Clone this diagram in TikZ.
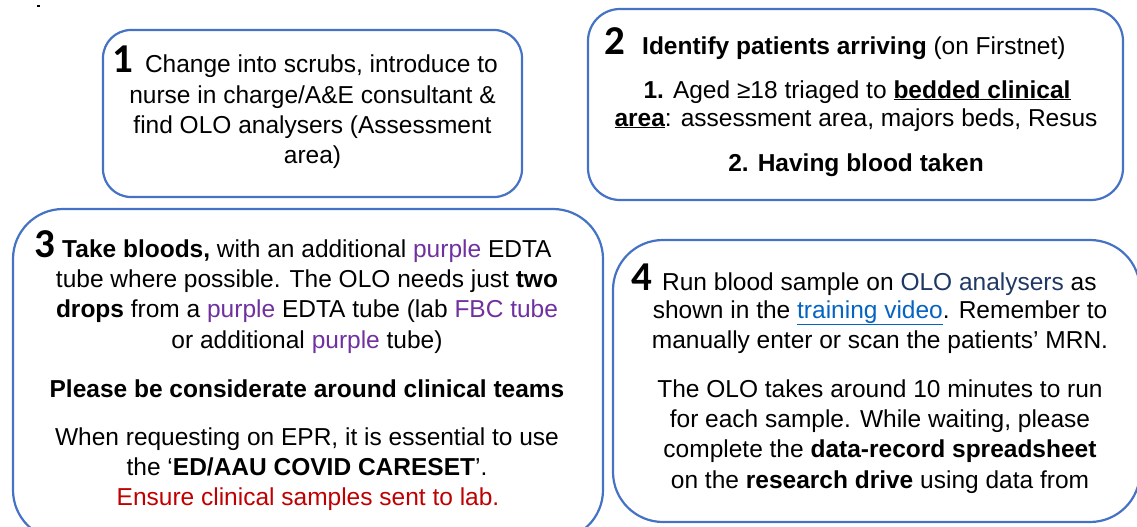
\documentclass[tikz,border=0pt]{standalone}
\usepackage{fontspec}
\setmainfont{Liberation Sans}
\newfontfamily\digitfont{Carlito}
\definecolor{boxblue}{HTML}{4472C4}
\definecolor{olopurple}{HTML}{7030A0}
\definecolor{olonavy}{HTML}{203864}
\definecolor{linkblue}{HTML}{0563C1}
\definecolor{warnred}{HTML}{C00000}
\newcommand{\bignum}[1]{{\digitfont\fontsize{41}{41}\selectfont\bfseries #1}}
\newcommand{\pur}[1]{\textcolor{olopurple}{#1}}
\begin{document}
\begin{tikzpicture}[x=1pt,y=-1pt,
  stepbox/.style={draw=boxblue, line width=2.2pt, rounded corners=#1, inner sep=0pt, outer sep=0pt},
  txt/.style={anchor=base, inner sep=0pt, font=\fontsize{24.5}{28}\selectfont}
]
\useasboundingbox (0,0) rectangle (1137,527);
\fill[black] (37,5) rectangle (40,7);
% boxes
\node[stepbox=28pt, minimum width=419pt, minimum height=167pt] (b1) at (312.5,113.5) {};
\node[stepbox=32pt, minimum width=535pt, minimum height=191pt] (b2) at (855.5,104.5) {};
\node[stepbox=50pt, minimum width=590pt, minimum height=331pt] (b3) at (308,374.5) {};
\node[stepbox=50pt, minimum width=527pt, minimum height=282pt] (b4) at (876.5,381) {};
% box 1
\node[txt] (t1a) at (305,72) {\bignum{1}\hspace{12pt}Change into scrubs, introduce to};
\node[txt] (t1b) at (312.5,103) {nurse in charge/A\&E consultant \&};
\node[txt] (t1c) at (312.5,133) {find OLO analysers (Assessment};
\node[txt] (t1d) at (312.5,163) {area)};
% box 2
\node[txt] (t2a) at (835,55) {\bignum{2}\hspace{17pt}\textbf{Identify patients arriving} (on Firstnet)};
\node[txt] (t2b) at (857,98) {\textbf{1.} Aged ≥18 triaged to \textbf{\underline{bedded clinical}}};
\node[txt] (t2c) at (856,126) {\textbf{\underline{area}}: assessment area, majors beds, Resus};
\node[txt] (t2d) at (856,171) {\textbf{2. Having blood taken}};
% box 3
\node[txt] (t3a) at (293,257) {\bignum{3}\hspace{7pt}\textbf{Take bloods,} with an additional \pur{purple} EDTA};
\node[txt] (t3b) at (307,287) {tube where possible. The OLO needs just \textbf{two}};
\node[txt] (t3c) at (307,317) {\textbf{drops} from a \pur{purple} EDTA tube (lab \pur{FBC tube}};
\node[txt] (t3d) at (307,348) {or additional \pur{purple} tube)};
\node[txt] (t3e) at (307,397) {\textbf{Please be considerate around clinical teams}};
\node[txt] (t3f) at (307,445) {When requesting on EPR, it is essential to use};
\node[txt] (t3g) at (307,475) {the ‘\textbf{ED/AAU COVID CARESET}’.};
\node[txt] (t3h) at (308,505) {\textcolor{warnred}{Ensure clinical samples sent to lab.}};
% box 4
\node[txt] (t4a) at (864,290) {\bignum{4}\hspace{10pt}Run blood sample on \textcolor{olonavy}{OLO analysers} as};
\node[txt] (t4b) at (880,318) {shown in the \textcolor{linkblue}{\underline{training video}}. Remember to};
\node[txt] (t4c) at (880,348) {manually enter or scan the patients’ MRN.};
\node[txt] (t4d) at (880,397) {The OLO takes around 10 minutes to run};
\node[txt] (t4e) at (880,427) {for each sample. While waiting, please};
\node[txt] (t4f) at (880,457) {complete the \textbf{data-record spreadsheet}};
\node[txt] (t4g) at (880,488) {on the \textbf{research drive} using data from};
\end{tikzpicture}
\end{document}
